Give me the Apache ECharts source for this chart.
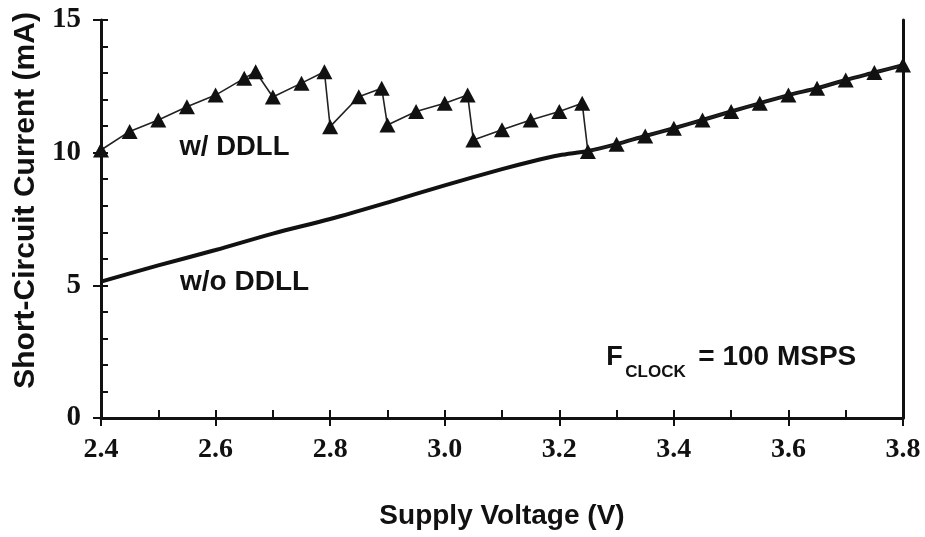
<!DOCTYPE html>
<html>
<head>
<meta charset="utf-8">
<script src="https://cdn.jsdelivr.net/npm/echarts@6/dist/echarts.min.js"></script>
<style>
  html, body { margin: 0; padding: 0; background: #fff; }
  #chart { width: 925px; height: 537px; }
</style>
</head>
<body>
<div id="chart"></div>
<script>
// Supply voltage (V) and short-circuit current (mA) with the DDLL enabled
const voltsDDLL = [2.40, 2.45, 2.50, 2.55, 2.60, 2.65, 2.67, 2.70, 2.75, 2.79,
                   2.80, 2.85, 2.89, 2.90, 2.95, 3.00, 3.04, 3.05, 3.10, 3.15,
                   3.20, 3.24, 3.25, 3.30, 3.35, 3.40, 3.45, 3.50, 3.55, 3.60,
                   3.65, 3.70, 3.75, 3.80];
const currentDDLL = [10.1, 10.8, 11.23, 11.73, 12.17, 12.8, 13.05, 12.1, 12.62, 13.05,
                     10.98, 12.11, 12.43, 11.04, 11.55, 11.86, 12.17, 10.48, 10.86, 11.23,
                     11.55, 11.86, 10.04, 10.32, 10.63, 10.92, 11.23, 11.55, 11.86, 12.17,
                     12.43, 12.74, 13.02, 13.3];

// Without the DDLL
const voltsPlain = [2.40, 2.50, 2.60, 2.70, 2.80, 2.90, 3.00, 3.10, 3.15, 3.20, 3.25,
                    3.30, 3.35, 3.40, 3.45, 3.50, 3.55, 3.60, 3.65, 3.70, 3.75, 3.80];
const currentPlain = [5.14, 5.75, 6.33, 6.95, 7.5, 8.12, 8.77, 9.38, 9.66, 9.9, 10.06,
                      10.32, 10.63, 10.92, 11.23, 11.55, 11.86, 12.17, 12.43, 12.74, 13.02, 13.3];

const xTitle = 'Supply Voltage (V)';
const yTitle = 'Short-Circuit Current (mA)';
const labelDDLL = 'w/ DDLL';
const labelPlain = 'w/o DDLL';

const ink = '#111';
const serif = '"Liberation Serif", "Times New Roman", serif';
const sans = '"Liberation Sans", Arial, sans-serif';

const pairs = (xs, ys) => xs.map((x, i) => [x, ys[i]]);

const chart = echarts.init(document.getElementById('chart'));
const grid = { left: 101, right: 22, top: 20, bottom: 119, containLabel: false };

chart.setOption({
  animation: false,
  backgroundColor: '#fff',
  grid: grid,
  xAxis: [
    {
      type: 'value', min: 2.4, max: 3.8, interval: 0.2,
      name: xTitle, nameLocation: 'middle', nameGap: 84,
      nameTextStyle: { color: ink, fontFamily: sans, fontWeight: 'bold', fontSize: 28 },
      axisLine: { show: true, onZero: false, lineStyle: { color: ink, width: 3 } },
      axisTick: { show: true, inside: false, length: 8, lineStyle: { color: ink, width: 2 } },
      axisLabel: {
        color: ink, fontFamily: serif, fontWeight: 'bold', fontSize: 28, margin: 18,
        formatter: v => v.toFixed(1)
      },
      splitLine: { show: false }
    },
    {
      type: 'value', min: 2.4, max: 3.8, interval: 0.1, position: 'bottom',
      axisLine: { show: false },
      axisTick: { show: true, inside: true, length: 8, lineStyle: { color: ink, width: 2 } },
      axisLabel: { show: false },
      splitLine: { show: false }
    }
  ],
  yAxis: [
    {
      type: 'value', min: 0, max: 15, interval: 5, position: 'left',
      axisLine: { show: true, onZero: false, lineStyle: { color: ink, width: 3 } },
      axisTick: { show: true, inside: false, length: 8, lineStyle: { color: ink, width: 2 } },
      axisLabel: { color: ink, fontFamily: serif, fontWeight: 'bold', fontSize: 29, margin: 20 },
      splitLine: { show: false }
    },
    {
      type: 'value', min: 0, max: 15, interval: 1, position: 'left',
      axisLine: { show: false },
      axisTick: { show: true, inside: true, length: 7, lineStyle: { color: ink, width: 2 } },
      axisLabel: { show: false },
      splitLine: { show: false }
    },
    {
      type: 'value', min: 0, max: 15, interval: 5, position: 'right',
      axisLine: { show: true, onZero: false, lineStyle: { color: ink, width: 3 } },
      axisTick: { show: false },
      axisLabel: { show: false },
      splitLine: { show: false }
    }
  ],
  series: [
    {
      name: labelPlain, type: 'line', xAxisIndex: 0, yAxisIndex: 0,
      data: pairs(voltsPlain, currentPlain),
      showSymbol: false, smooth: 0.3,
      lineStyle: { color: ink, width: 4 },
      z: 2
    },
    {
      name: labelDDLL, type: 'line', xAxisIndex: 0, yAxisIndex: 0,
      data: pairs(voltsDDLL, currentDDLL),
      symbol: 'triangle', symbolSize: [16, 15], showSymbol: true,
      itemStyle: { color: ink },
      lineStyle: { color: '#222', width: 1.6 },
      z: 3
    }
  ]
});

// Curve labels, the clock-rate note and the current axis title
const at = (x, y) => chart.convertToPixel({ xAxisIndex: 0, yAxisIndex: 0 }, [x, y]);
const pDDLL = at(2.537, 10.2);
const pPlain = at(2.538, 5.1);
const pNote = at(3.282, 2.28);
const pTitle = at(2.4, 8.2);
const txt = (x, y, text, size) => ({
  type: 'text', x: x, y: y,
  style: {
    text: text, fill: ink, font: 'bold ' + size + 'px ' + sans,
    textAlign: 'left', textVerticalAlign: 'middle'
  }
});

chart.setOption({
  graphic: [
    txt(pDDLL[0], pDDLL[1], labelDDLL, 27.5),
    txt(pPlain[0], pPlain[1], labelPlain, 28),
    txt(pNote[0], pNote[1], 'F', 27),
    txt(pNote[0] + 19, pNote[1] + 15, 'CLOCK', 17),
    txt(pNote[0] + 92, pNote[1], '= 100 MSPS', 28),
    {
      type: 'text', x: pTitle[0] - 75, y: pTitle[1], rotation: Math.PI / 2,
      style: {
        text: yTitle, fill: ink, font: 'bold 30px ' + sans,
        textAlign: 'center', textVerticalAlign: 'middle'
      }
    }
  ]
});
</script>
</body>
</html>
